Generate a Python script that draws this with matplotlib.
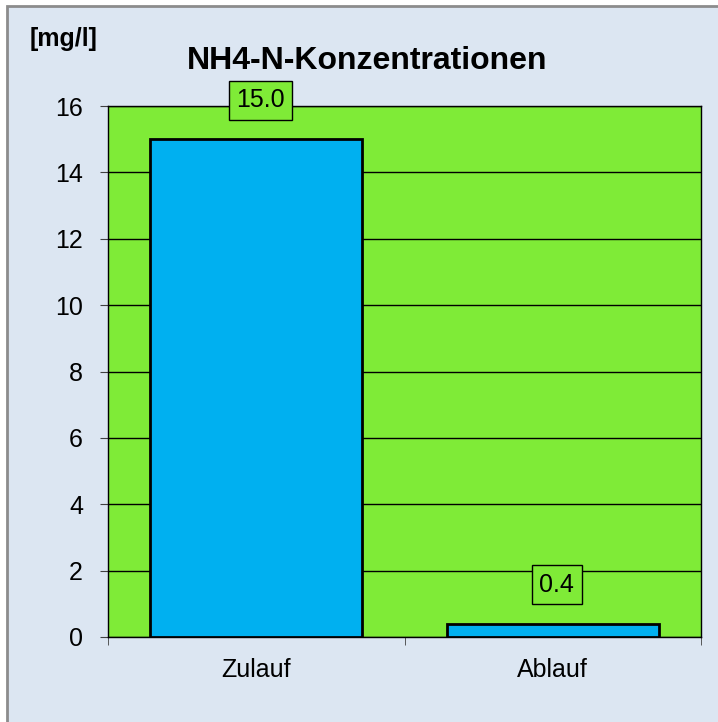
import numpy as np
import matplotlib.pyplot as plt
from matplotlib.patches import Rectangle

plt.rcParams['font.family'] = ['Liberation Sans', 'DejaVu Sans']

# data
categories = ["Zulauf", "Ablauf"]
values = [15.0, 0.4]
labels = ["15.0", "0.4"]

bg_blue = '#DCE6F2'
plot_green = '#7FEB37'
bar_blue = '#00B0F0'

fig = plt.figure(figsize=(7.18, 7.22), dpi=100, facecolor='white')

# chart area frame (only top and left edge fall inside the picture)
frame = Rectangle((7 / 718, -0.2), 1.2, 0.2 + (1 - 6 / 722),
                  transform=fig.transFigure, facecolor=bg_blue,
                  edgecolor='#8C8C8C', lw=2, zorder=-10)
fig.patches.append(frame)

ax = fig.add_axes([108 / 718, 1 - 637 / 722, 593 / 718, 531 / 722])
ax.set_facecolor(plot_green)

x = np.arange(len(categories))
ax.bar(x, values, width=0.715, color=bar_blue, edgecolor='black',
       linewidth=2, zorder=3)

# value labels in boxes above the bars
for xi, v, lab in zip(x, values, labels):
    ax.annotate(lab, (xi, v), xytext=(3, 28), textcoords='offset points',
                ha='center', va='center', fontsize=18, zorder=4,
                bbox=dict(boxstyle='square,pad=0.3', fc=plot_green,
                          ec='black', lw=1))

ax.set_xlim(-0.5, 1.5)
ax.set_ylim(0, 16)
ax.set_yticks(np.arange(0, 17, 2))
ax.yaxis.grid(True, color='black', lw=1)
ax.set_axisbelow(True)

ax.set_xticks(x)
ax.set_xticklabels(categories)
ax.set_xticks([-0.5, 0.5, 1.5], minor=True)
ax.tick_params(axis='x', which='major', length=0, pad=15, labelsize=18)
ax.tick_params(axis='x', which='minor', length=6, color='#404040',
               direction='out')
ax.tick_params(axis='y', length=6, color='#404040', direction='out',
               pad=12, labelsize=18)

for s in ax.spines.values():
    s.set_color('black')
    s.set_linewidth(1)

fig.text(367 / 718, 1 - 61 / 722, "NH4-N-Konzentrationen", ha='center',
         va='center', fontsize=23, fontweight='bold')
fig.text(64 / 718, 1 - 39 / 722, "[mg/l]", ha='center', va='center',
         fontsize=18, fontweight='bold')

fig.savefig('out.png', dpi=100, facecolor=fig.get_facecolor())
